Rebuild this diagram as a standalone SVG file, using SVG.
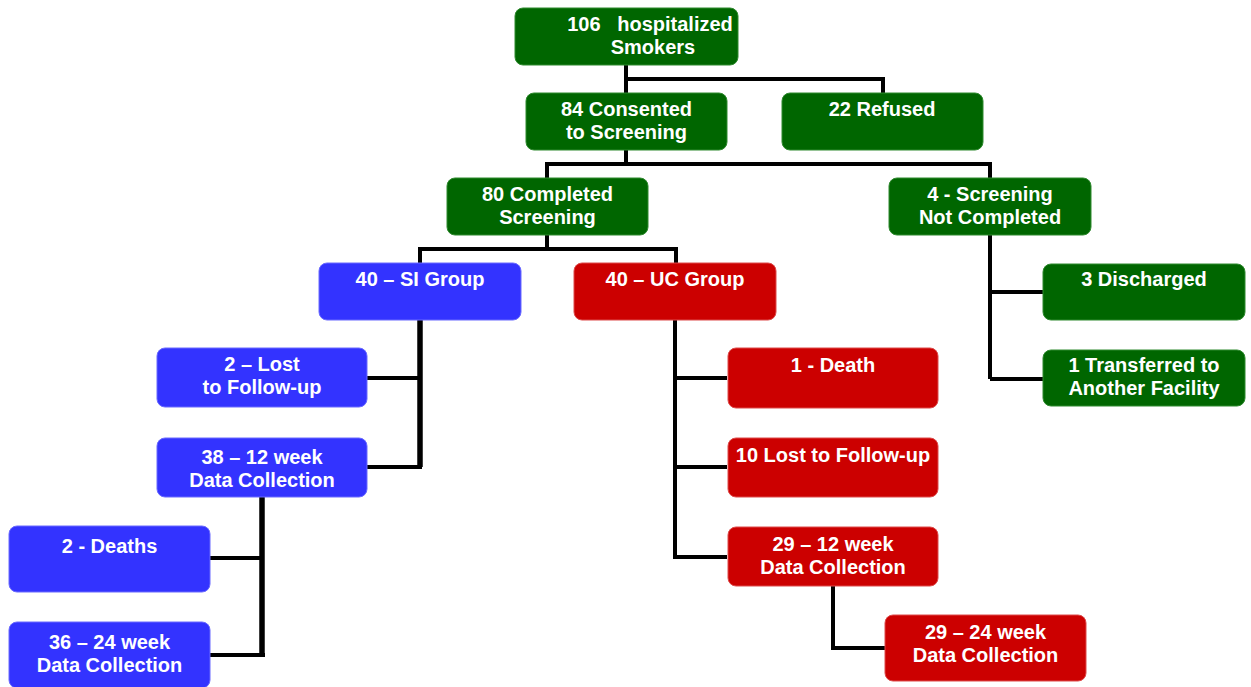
<svg xmlns="http://www.w3.org/2000/svg" width="1251" height="687" viewBox="0 0 1251 687">
  <style>
    .box { stroke-width: 1; rx: 8; ry: 8; }
    .green { fill: #006600; stroke: #2f8a2f; }
    .red { fill: #cc0000; stroke: #dd4a4a; }
    .blue { fill: #3333ff; stroke: #6a6aff; }
    .lbl { font-family: "Liberation Sans", Arial, sans-serif; font-size: 20px; font-weight: bold; fill: #ffffff; text-anchor: middle; white-space: pre; }
    .conn { fill: none; stroke: #000000; stroke-width: 4; stroke-linejoin: miter; stroke-linecap: butt; }
    .thick { stroke-width: 5.5; }
  </style>
  <rect width="1251" height="687" fill="#ffffff"/>

  <!-- connectors -->
  <g id="connectors">
    <path class="conn" d="M626 65 V93 M626 79 H883 V93"/>
    <path class="conn" d="M626 150 V164 M547 178 V164 H990 V178"/>
    <path class="conn" d="M547 235 V249 M420 263 V249 H676 V263"/>
    <path class="conn" d="M990 235 V379 M990 292 H1043 M990 379 H1043"/>
    <path class="conn thick" d="M420 320 V467"/>
    <path class="conn" d="M367 378 H420 M367 467 H422"/>
    <path class="conn thick" d="M262 497 V657"/>
    <path class="conn" d="M210 558 H262 M210 655 H265"/>
    <path class="conn" d="M675 320 V557 H727 M675 378 H727 M675 467 H727"/>
    <path class="conn" d="M833 586 V648 H885"/>
  </g>

  <g id="n-smokers">
    <rect class="box green" x="515" y="8" width="223" height="57"/>
    <text class="lbl" x="650" y="31">106   hospitalized</text>
    <text class="lbl" x="653" y="54">Smokers</text>
  </g>
  <g id="n-consented">
    <rect class="box green" x="526" y="93" width="201" height="57"/>
    <text class="lbl" x="626.5" y="116">84 Consented</text>
    <text class="lbl" x="626.5" y="139">to Screening</text>
  </g>
  <g id="n-refused">
    <rect class="box green" x="782" y="93" width="201" height="57"/>
    <text class="lbl" x="882" y="116">22 Refused</text>
  </g>
  <g id="n-completed">
    <rect class="box green" x="447" y="178" width="201" height="57"/>
    <text class="lbl" x="547.5" y="201">80 Completed</text>
    <text class="lbl" x="547.5" y="224">Screening</text>
  </g>
  <g id="n-not-completed">
    <rect class="box green" x="889" y="178" width="202" height="57"/>
    <text class="lbl" x="990" y="201">4 - Screening</text>
    <text class="lbl" x="990" y="224">Not Completed</text>
  </g>
  <g id="n-si">
    <rect class="box blue" x="319" y="263" width="202" height="57"/>
    <text class="lbl" x="420" y="286">40 – SI Group</text>
  </g>
  <g id="n-uc">
    <rect class="box red" x="574" y="263" width="202" height="57"/>
    <text class="lbl" x="675" y="286">40 – UC Group</text>
  </g>
  <g id="n-discharged">
    <rect class="box green" x="1043" y="264" width="202" height="56"/>
    <text class="lbl" x="1144" y="286">3 Discharged</text>
  </g>
  <g id="n-transferred">
    <rect class="box green" x="1043" y="350" width="202" height="56"/>
    <text class="lbl" x="1144" y="372">1 Transferred to</text>
    <text class="lbl" x="1144" y="395">Another Facility</text>
  </g>
  <g id="n-si-lost">
    <rect class="box blue" x="157" y="348" width="210" height="59"/>
    <text class="lbl" x="262" y="371">2 – Lost</text>
    <text class="lbl" x="262" y="394">to Follow-up</text>
  </g>
  <g id="n-si-12wk">
    <rect class="box blue" x="157" y="438" width="210" height="59"/>
    <text class="lbl" x="262" y="464">38 – 12 week</text>
    <text class="lbl" x="262" y="487">Data Collection</text>
  </g>
  <g id="n-si-deaths">
    <rect class="box blue" x="9" y="526" width="201" height="66"/>
    <text class="lbl" x="109.5" y="553">2 - Deaths</text>
  </g>
  <g id="n-si-24wk">
    <rect class="box blue" x="9" y="622" width="201" height="66"/>
    <text class="lbl" x="109.5" y="649">36 – 24 week</text>
    <text class="lbl" x="109.5" y="672">Data Collection</text>
  </g>
  <g id="n-uc-death">
    <rect class="box red" x="728" y="348" width="210" height="60"/>
    <text class="lbl" x="833" y="372">1 - Death</text>
  </g>
  <g id="n-uc-lost">
    <rect class="box red" x="728" y="438" width="210" height="59"/>
    <text class="lbl" x="833" y="462">10 Lost to Follow-up</text>
  </g>
  <g id="n-uc-12wk">
    <rect class="box red" x="728" y="527" width="210" height="59"/>
    <text class="lbl" x="833" y="551">29 – 12 week</text>
    <text class="lbl" x="833" y="574">Data Collection</text>
  </g>
  <g id="n-uc-24wk">
    <rect class="box red" x="885" y="615" width="201" height="66"/>
    <text class="lbl" x="985.5" y="639">29 – 24 week</text>
    <text class="lbl" x="985.5" y="662">Data Collection</text>
  </g>
</svg>
